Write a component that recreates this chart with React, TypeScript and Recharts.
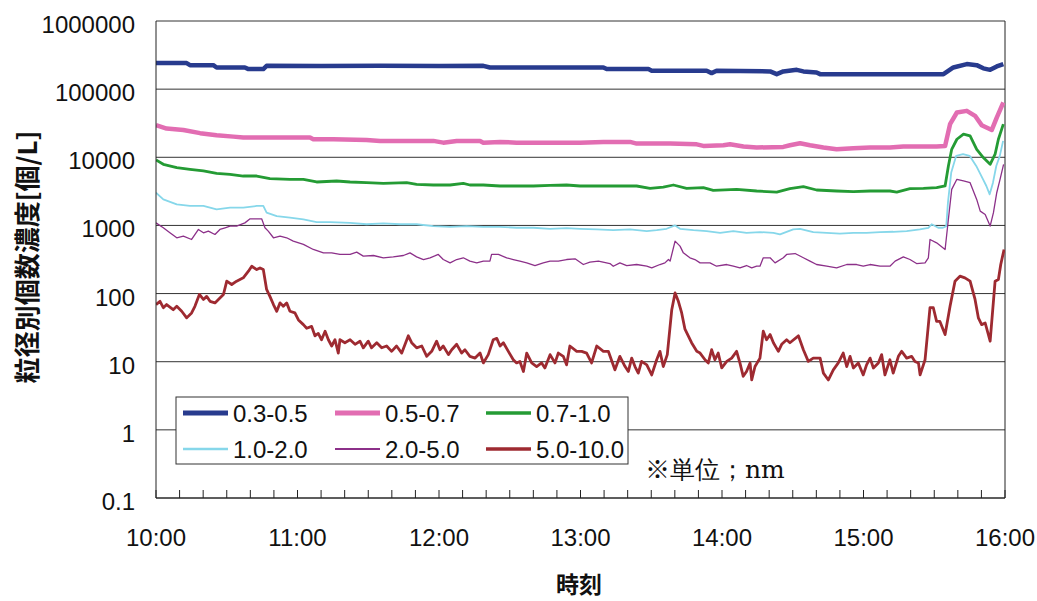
import React from 'react';
import { LineChart, Line, XAxis, YAxis, CartesianGrid, ReferenceLine } from 'recharts';

// [minutes after 10:00, particles per litre]
type Pt = [number, number];

const size03_05: Pt[] = [
  [0, 241000], [13, 241000], [14.4, 225000], [24.3, 225000], [25.7, 208000], [37.7, 208000],
  [39.2, 197000], [45.5, 197000], [46.9, 220000], [70, 218000], [95, 220000], [120, 218000],
  [138.8, 220000], [141.6, 208000], [160, 207000], [179.8, 208000], [189.7, 208000], [191.1, 197000],
  [208.8, 197000], [210.2, 186000], [233.5, 186000], [235.6, 172000], [237.7, 186000], [260.4, 182000],
  [263.2, 166000], [266, 182000], [271.7, 192000], [274.5, 182000], [280.1, 176000], [281.6, 166000],
  [310, 166000], [333.9, 166000], [338.1, 208000], [343.8, 233000], [348, 225000], [350.8, 202000],
  [353.7, 192000], [356.5, 215000], [359.3, 233000],
];

const size05_07: Pt[] = [
  [0, 29600], [4.5, 26400], [11.6, 25200], [18.7, 22600], [25.7, 21100], [32.8, 20100], [37, 19500],
  [54, 19500], [65.3, 19500], [66.7, 18400], [75.2, 18400], [89.3, 18000], [95, 17400], [117.6, 17400],
  [121.8, 16400], [127.5, 17400], [137.4, 17400], [138.8, 16400], [145.9, 16800], [152.9, 16400],
  [167.1, 16400], [179.8, 16400], [189.7, 16800], [201, 16800], [203.8, 15900], [218, 15900],
  [229.3, 15500], [232.1, 14700], [240.6, 15000], [243.4, 15500], [249.1, 14400], [254.7, 13900],
  [266, 14200], [268.8, 15000], [273.1, 16100], [277.3, 15000], [283, 13900], [288.6, 13100],
  [295.7, 13600], [302.8, 13900], [311.2, 13900], [316.9, 14400], [331, 14400], [334.6, 14700],
  [336.7, 30600], [339.6, 45400], [343.8, 48000], [347.3, 40600], [350.1, 29600], [354.4, 25200],
  [356.5, 38300], [359.3, 63700],
];

const size07_10: Pt[] = [
  [0, 9140], [3.1, 7890], [8.8, 7050], [14.4, 6660], [20.1, 6300], [25.7, 5820], [31.4, 5620],
  [37, 5310], [42.7, 5310], [48.3, 4860], [56.8, 4750], [62.5, 4750], [68.1, 4340], [76.6, 4490],
  [82.3, 4340], [89.3, 4240], [96.4, 4150], [106.3, 4240], [110.5, 4010], [117.6, 3920], [124.7, 3920],
  [130.3, 4150], [133.1, 3920], [138.8, 3920], [145.9, 3790], [152.9, 3790], [160, 3790], [167.1, 3880],
  [174.1, 3920], [179.8, 3790], [189.7, 3790], [203.8, 3790], [209.5, 3500], [215.1, 3660],
  [219.4, 3920], [225, 3500], [232.1, 3580], [236.3, 3270], [246.2, 3380], [254.7, 3200],
  [263.2, 3090], [268.8, 3460], [274.5, 3700], [280.1, 3310], [288.6, 3200], [295.7, 3130],
  [302.8, 3200], [311.2, 3200], [314.1, 3090], [319.7, 3460], [325.4, 3500], [331, 3580],
  [334.6, 3790], [336, 7460], [337.4, 13100], [339.6, 18400], [342.4, 21800], [345.2, 20600],
  [348, 13100], [350.8, 9890], [353.7, 7890], [355.8, 11100], [357.2, 18400], [359.3, 30600],
];

const size10_20: Pt[] = [
  [0, 3020], [3.1, 2410], [8.8, 2040], [14.4, 1930], [20.1, 1930], [25.7, 1720], [31.4, 1820],
  [37, 1820], [42.7, 1930], [45.5, 1930], [46.9, 1540], [51.2, 1370], [56.8, 1300], [62.5, 1230],
  [68.1, 1120], [73.8, 1120], [82.3, 1090], [89.3, 1040], [96.4, 1070], [103.5, 1040], [110.5, 1040],
  [117.6, 977], [124.7, 955], [131.7, 977], [138.8, 955], [145.9, 955], [152.9, 924], [160, 924],
  [167.1, 893], [174.1, 914], [179.8, 893], [186.9, 873], [193.9, 853], [201, 873], [208.1, 826],
  [212.3, 853], [216.5, 893], [220.1, 1000], [222.2, 893], [227.9, 853], [233.5, 826], [239.2, 780],
  [244.8, 826], [250.4, 780], [256.1, 798], [261.8, 780], [264.6, 737], [270.2, 873], [273.1, 893],
  [278.7, 798], [284.4, 780], [290, 760], [295.7, 780], [301.3, 780], [307, 798], [312.6, 807],
  [318.3, 826], [323.9, 873], [327.5, 924], [328.9, 1040], [331.7, 924], [333.7, 924], [335.1, 977],
  [335.8, 2150], [337.2, 5960], [339.3, 10500], [342.2, 11100], [345, 10500], [347.8, 7460],
  [350.7, 4750], [352.1, 3790], [353.5, 2860], [354.9, 4240], [356.3, 7460], [357.8, 10500],
  [359.2, 17400],
];

const size20_50: Pt[] = [
  [0, 1090], [3.1, 924], [5.9, 780], [8.8, 659], [11.6, 697], [15.1, 622], [18, 873], [20.1, 780],
  [22.2, 826], [25, 737], [27.1, 873], [29.3, 924], [31.4, 977], [34.2, 977], [37.7, 1090],
  [39.9, 1250], [44.8, 1250], [46.2, 924], [47.6, 826], [49.8, 659], [52.6, 697], [55.4, 659],
  [58.2, 588], [62.5, 526], [66.7, 444], [71, 396], [74.5, 396], [78, 375], [82.3, 375], [85.1, 405],
  [87.9, 354], [92.2, 362], [96.4, 335], [100.6, 346], [104.9, 362], [107.7, 396], [110.5, 346],
  [113.4, 316], [116.2, 335], [119.7, 375], [121.8, 316], [124.7, 282], [127.5, 316], [130.3, 335],
  [133.1, 299], [136, 282], [138.8, 299], [141.6, 299], [142.3, 375], [145.2, 375], [148.7, 335],
  [151.5, 316], [154.3, 299], [157.2, 282], [160.7, 258], [164.2, 282], [167.1, 299], [170.6, 299],
  [174.1, 316], [177.7, 324], [181.2, 267], [184, 289], [187.6, 299], [192.5, 276], [193.9, 252],
  [196.7, 282], [199.6, 258], [203.8, 267], [208.1, 252], [210.2, 238], [213.7, 267], [215.8, 282],
  [217.3, 316], [218, 299], [220.1, 588], [222.2, 497], [223.6, 396], [226.4, 335], [228.5, 316],
  [230.7, 282], [234.9, 282], [237.7, 252], [242, 267], [244.8, 252], [247.6, 238], [250.4, 258],
  [252.6, 238], [254.7, 252], [256.1, 252], [257.5, 335], [260.4, 335], [262.5, 282], [266, 335],
  [267.4, 375], [271, 387], [274.5, 335], [277.3, 299], [280.1, 267], [284.4, 252], [288.6, 238],
  [292.9, 267], [297.1, 267], [299.9, 252], [302.8, 267], [307, 252], [311.2, 252], [313.4, 299],
  [316.9, 346], [319.7, 316], [322.5, 276], [326.1, 282], [327.5, 335], [328.2, 622], [331, 556],
  [334.6, 444], [336, 1230], [337.4, 3380], [339.6, 4750], [342.4, 4490], [345.2, 4240], [348, 2410],
  [349.5, 1620], [351.6, 1450], [353.7, 977], [355.1, 1540], [356.5, 3020], [357.9, 4750],
  [359.4, 7890],
];

const size50_100: Pt[] = [
  [0, 69], [1.7, 77], [3.1, 62], [4.5, 69], [7.3, 58], [8.8, 65], [10.9, 55], [13, 44], [15.1, 52],
  [16.5, 65], [18.4, 97], [20.1, 82], [21.5, 91], [22.9, 77], [25, 73], [27.1, 86], [28.6, 97],
  [30, 152], [32.1, 136], [34.2, 152], [37, 170], [39.2, 213], [40.6, 252], [42.7, 225], [44.1, 238],
  [45.5, 225], [46.9, 115], [48.3, 91], [49.8, 69], [51.2, 55], [52.6, 73], [54, 65], [55.4, 73],
  [56.8, 55], [58.9, 52], [60.4, 41], [62.5, 35], [63.9, 31], [66, 33], [67.4, 24], [68.8, 26],
  [70.2, 21], [71.7, 28], [73.1, 21], [74.5, 17], [75.9, 21], [77.3, 13.4], [78, 21], [80.1, 19],
  [82.3, 21], [84.4, 18], [86.5, 20], [87.9, 16], [90, 20], [91.4, 16], [93.6, 19], [95.7, 16],
  [97.8, 17], [99.9, 14.2], [102, 17], [104.2, 13.4], [107, 24], [108.4, 19], [110.5, 16], [112.7, 17],
  [114.8, 12], [116.9, 14.2], [119, 20], [120.4, 15], [121.8, 17], [124, 12.7], [125.4, 15],
  [127.5, 18], [129.6, 13.4], [131, 15], [133.1, 12], [135.3, 11.3], [137.4, 13.4], [138.8, 9.6],
  [140.9, 12.7], [143, 21], [144.5, 22], [145.9, 17], [147.3, 19], [149.4, 14.2], [151.5, 10.7],
  [152.9, 9.6], [154.3, 10.1], [155.8, 7.2], [157.2, 13.4], [159.3, 9.6], [161.4, 8.5], [163.5, 9.6],
  [164.9, 8.1], [167.1, 12.7], [169.2, 9.6], [170.6, 13.4], [172.7, 12], [174.1, 9], [175.5, 17],
  [178.4, 14.2], [180.5, 14.2], [182.6, 13.4], [184.7, 9.6], [186.9, 17], [189.7, 14.2], [191.8, 14.2],
  [194.6, 7.6], [196.7, 12], [198.9, 8.5], [200.3, 7.2], [201.7, 11.3], [203.1, 8.5], [204.5, 6.8],
  [205.9, 10.1], [208.1, 9], [210.2, 6.4], [212.3, 10.7], [213.7, 14.2], [215.1, 8.5], [216.8, 12.7],
  [218.7, 58], [220.1, 102], [221.5, 77], [222.9, 52], [224.3, 30], [227.1, 19], [229.3, 14.2],
  [230.7, 13.4], [232.8, 10.7], [234.2, 9.6], [235.6, 15], [237, 10.7], [238.4, 13.4], [239.9, 8.1],
  [242, 10.1], [244.1, 11.3], [246.2, 14.2], [247.6, 9.6], [249, 6.1], [250.4, 7.2], [251.9, 9.6],
  [252.6, 5.4], [254, 8.5], [256.1, 11.3], [257.5, 28], [258.9, 21], [260.4, 25], [261.8, 19],
  [263.9, 14.2], [265.3, 18], [267.4, 21], [268.8, 19], [272.4, 24], [274.5, 15], [276.6, 10.1],
  [278.7, 11.3], [281.6, 11.3], [283, 6.8], [285.1, 5.4], [287.2, 7.6], [289.3, 9.6], [291.4, 13.4],
  [292.9, 8.5], [294.3, 12], [295.7, 8.1], [297.8, 9.6], [299.9, 6.4], [301.3, 9], [302.8, 11.3],
  [304.2, 8.1], [306.3, 9.6], [307.7, 12.7], [309.1, 6.4], [311.2, 10.7], [312.6, 6.8], [314.8, 12],
  [316.2, 14.2], [318.3, 11.3], [320.4, 12], [321.8, 10.1], [323.3, 9.6], [324, 6.4], [326.1, 10.7],
  [328.2, 62], [329.6, 62], [331, 39], [332.4, 39], [334.6, 25], [336.7, 65], [338.8, 152],
  [340.9, 180], [343, 170], [345.2, 152], [347.3, 82], [348.7, 44], [350.1, 35], [351.6, 37],
  [353.7, 20], [355.8, 152], [357.2, 161], [358.2, 267], [359.6, 444],
];

const minuteTicks = [
  0, 10, 20, 30, 40, 50, 60, 70, 80, 90, 100, 110, 120, 130, 140, 150, 160, 170, 180,
  190, 200, 210, 220, 230, 240, 250, 260, 270, 280, 290, 300, 310, 320, 330, 340, 350, 360,
];
const hourMinutes = [0, 60, 120, 180, 240, 300, 360];
const hourLabels = ['10:00', '11:00', '12:00', '13:00', '14:00', '15:00', '16:00'];
const countTicks = [0.1, 1, 10, 100, 1000, 10000, 100000, 1000000];

const series = [
  { name: '0.3-0.5', data: size03_05, color: '#283b8e', width: 4.5 },
  { name: '0.5-0.7', data: size05_07, color: '#e26db2', width: 4.5 },
  { name: '0.7-1.0', data: size07_10, color: '#249b34', width: 2.8 },
  { name: '1.0-2.0', data: size10_20, color: '#86d7ea', width: 1.8 },
  { name: '2.0-5.0', data: size20_50, color: '#8c3089', width: 1.3 },
  { name: '5.0-10.0', data: size50_100, color: '#9e2a31', width: 2.8 },
];

const latin = "'Liberation Sans', Arial, sans-serif";
const cjk = "'Noto Sans CJK JP', sans-serif";

const TimeTick = (props: any) => {
  const { x, y, payload } = props;
  const idx = hourMinutes.indexOf(payload.value);
  return (
    <g>
      <line x1={x} x2={x} y1={y} y2={y - 8} stroke="#222" strokeWidth={1} />
      {idx >= 0 && (
        <text x={x} y={y + 48} textAnchor="middle" fontSize={24} fontFamily={latin} fill="#111">
          {hourLabels[idx]}
        </text>
      )}
    </g>
  );
};

const CountTick = (props: any) => {
  const { x, y, payload } = props;
  return (
    <text x={x - 21} y={y + 12} textAnchor="end" fontSize={24} fontFamily={latin} fill="#111">
      {String(payload.value)}
    </text>
  );
};

// legend box sits inside the plot, bottom-left, three columns by two rows
const legendCols = [0, 152, 303];
const legendRows = [16, 52];

const Legend = () => (
  <g transform="translate(176 397)">
    <rect x={0} y={0} width={452} height={67} fill="#fff" stroke="#333" strokeWidth={1} />
    {series.map((s, i) => {
      const cx = legendCols[i % 3];
      const cy = legendRows[Math.floor(i / 3)];
      return (
        <g key={s.name}>
          <line x1={cx + 7} x2={cx + 52} y1={cy} y2={cy} stroke={s.color} strokeWidth={s.width + 0.5} />
          <text x={cx + 57} y={cy + 9} fontSize={24} fontFamily={latin} fill="#111">
            {s.name}
          </text>
        </g>
      );
    })}
  </g>
);

export default function App() {
  return (
    <div style={{ position: 'absolute', left: 0, top: 0, width: 1037, height: 601, background: '#fff' }}>
      <LineChart width={1037} height={601} margin={{ top: 21, right: 32, bottom: 0, left: 0 }}>
        <CartesianGrid vertical={false} stroke="#333" strokeWidth={1} />
        <XAxis
          type="number"
          dataKey="t"
          domain={[0, 360]}
          ticks={minuteTicks}
          interval={0}
          allowDataOverflow
          height={103}
          tickSize={0}
          tickMargin={0}
          tickLine={false}
          axisLine={{ stroke: '#222' }}
          tick={(p: any) => <TimeTick {...p} />}
        />
        <YAxis
          type="number"
          scale="log"
          domain={[0.1, 1000000]}
          ticks={countTicks}
          interval={0}
          allowDataOverflow
          width={156}
          tickSize={0}
          tickMargin={0}
          tickLine={false}
          axisLine={{ stroke: '#222' }}
          tick={(p: any) => <CountTick {...p} />}
        />
        <ReferenceLine x={360} stroke="#222" strokeWidth={1} />
        {series.map((s) => (
          <Line
            key={s.name}
            name={s.name}
            data={s.data.map(([t, v]) => ({ t, v }))}
            dataKey="v"
            type="linear"
            stroke={s.color}
            strokeWidth={s.width}
            strokeLinejoin="round"
            dot={false}
            activeDot={false}
            isAnimationActive={false}
          />
        ))}
      </LineChart>
      <svg
        width={1037}
        height={601}
        style={{ position: 'absolute', left: 0, top: 0, pointerEvents: 'none' }}
      >
        <text
          transform="translate(25 257) rotate(-90)"
          textAnchor="middle"
          dominantBaseline="central"
          fontSize={26}
          fontWeight="bold"
          fontFamily={cjk}
          fill="#111"
        >
          粒径別個数濃度[個/L]
        </text>
        <text
          x={579}
          y={593}
          textAnchor="middle"
          fontSize={23}
          fontWeight="bold"
          fontFamily={cjk}
          fill="#111"
        >
          時刻
        </text>
        <Legend />
        <text x={645} y={478} fontSize={25} fontFamily="'DejaVu Serif', 'Liberation Serif', serif" fill="#111">
          ※単位；nm
        </text>
      </svg>
    </div>
  );
}
